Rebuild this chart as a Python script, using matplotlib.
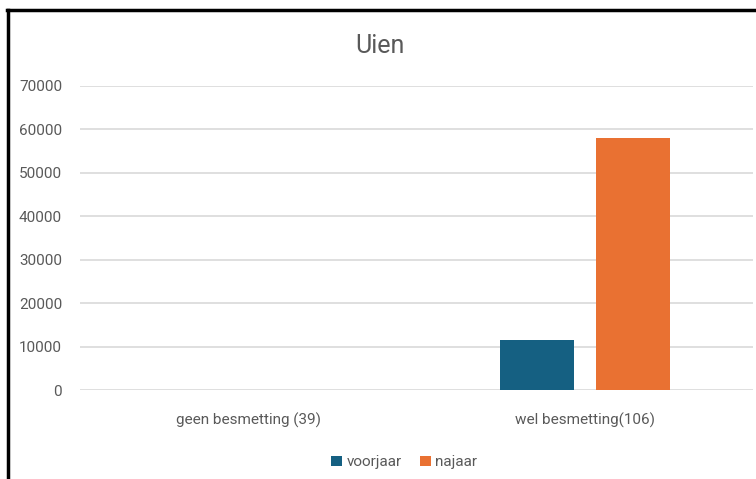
import numpy as np
import matplotlib
matplotlib.use('Agg')
import matplotlib.pyplot as plt
from matplotlib.lines import Line2D

# data
categories = ['geen besmetting (39)', 'wel besmetting(106)']
series_names = ['voorjaar', 'najaar']
voorjaar = [0, 11500]
najaar = [0, 58000]
colors = ['#156082', '#E97132']

plt.rcParams['font.family'] = ['Liberation Sans Narrow', 'Roboto', 'DejaVu Sans']
txt_col = '#595959'

fig = plt.figure(figsize=(7.56, 4.79), dpi=100)
ax = fig.add_axes([0.106, 0.1858, 0.89, 0.6347])

x = np.arange(len(categories))
width = 0.22
offset = 0.143
ax.bar(x - offset, voorjaar, width, color=colors[0], label=series_names[0], zorder=3)
ax.bar(x + offset, najaar, width, color=colors[1], label=series_names[1], zorder=3)

ax.set_xlim(-0.5, 1.5)
ax.set_ylim(0, 70000)
ax.set_yticks(np.arange(0, 70001, 10000))
ax.set_xticks(x)
ax.set_xticklabels(categories)
ax.yaxis.grid(True, color='#d9d9d9', linewidth=1.2, zorder=0)
ax.set_axisbelow(True)
for s in ax.spines.values():
    s.set_visible(False)
ax.tick_params(axis='both', length=0, labelsize=11, colors=txt_col)
ax.tick_params(axis='y', pad=13)
ax.tick_params(axis='x', pad=16)

fig.text(0.503, 0.905, 'Uien', ha='center', va='center', fontsize=18, color=txt_col)

fig.legend(loc='center', bbox_to_anchor=(0.535, 0.035), ncol=2, frameon=False,
           fontsize=11, handlelength=0.7, handleheight=0.7, handletextpad=0.3,
           columnspacing=1.2, labelcolor=txt_col)

# black frame edges of the screenshot
fig.add_artist(Line2D([0.009, 1.0], [0.98, 0.98], color='black', linewidth=2.5,
                      transform=fig.transFigure))
fig.add_artist(Line2D([0.0105, 0.0105], [0.0, 0.98], color='black', linewidth=2.5,
                      transform=fig.transFigure))

fig.savefig('out.png', dpi=100)
